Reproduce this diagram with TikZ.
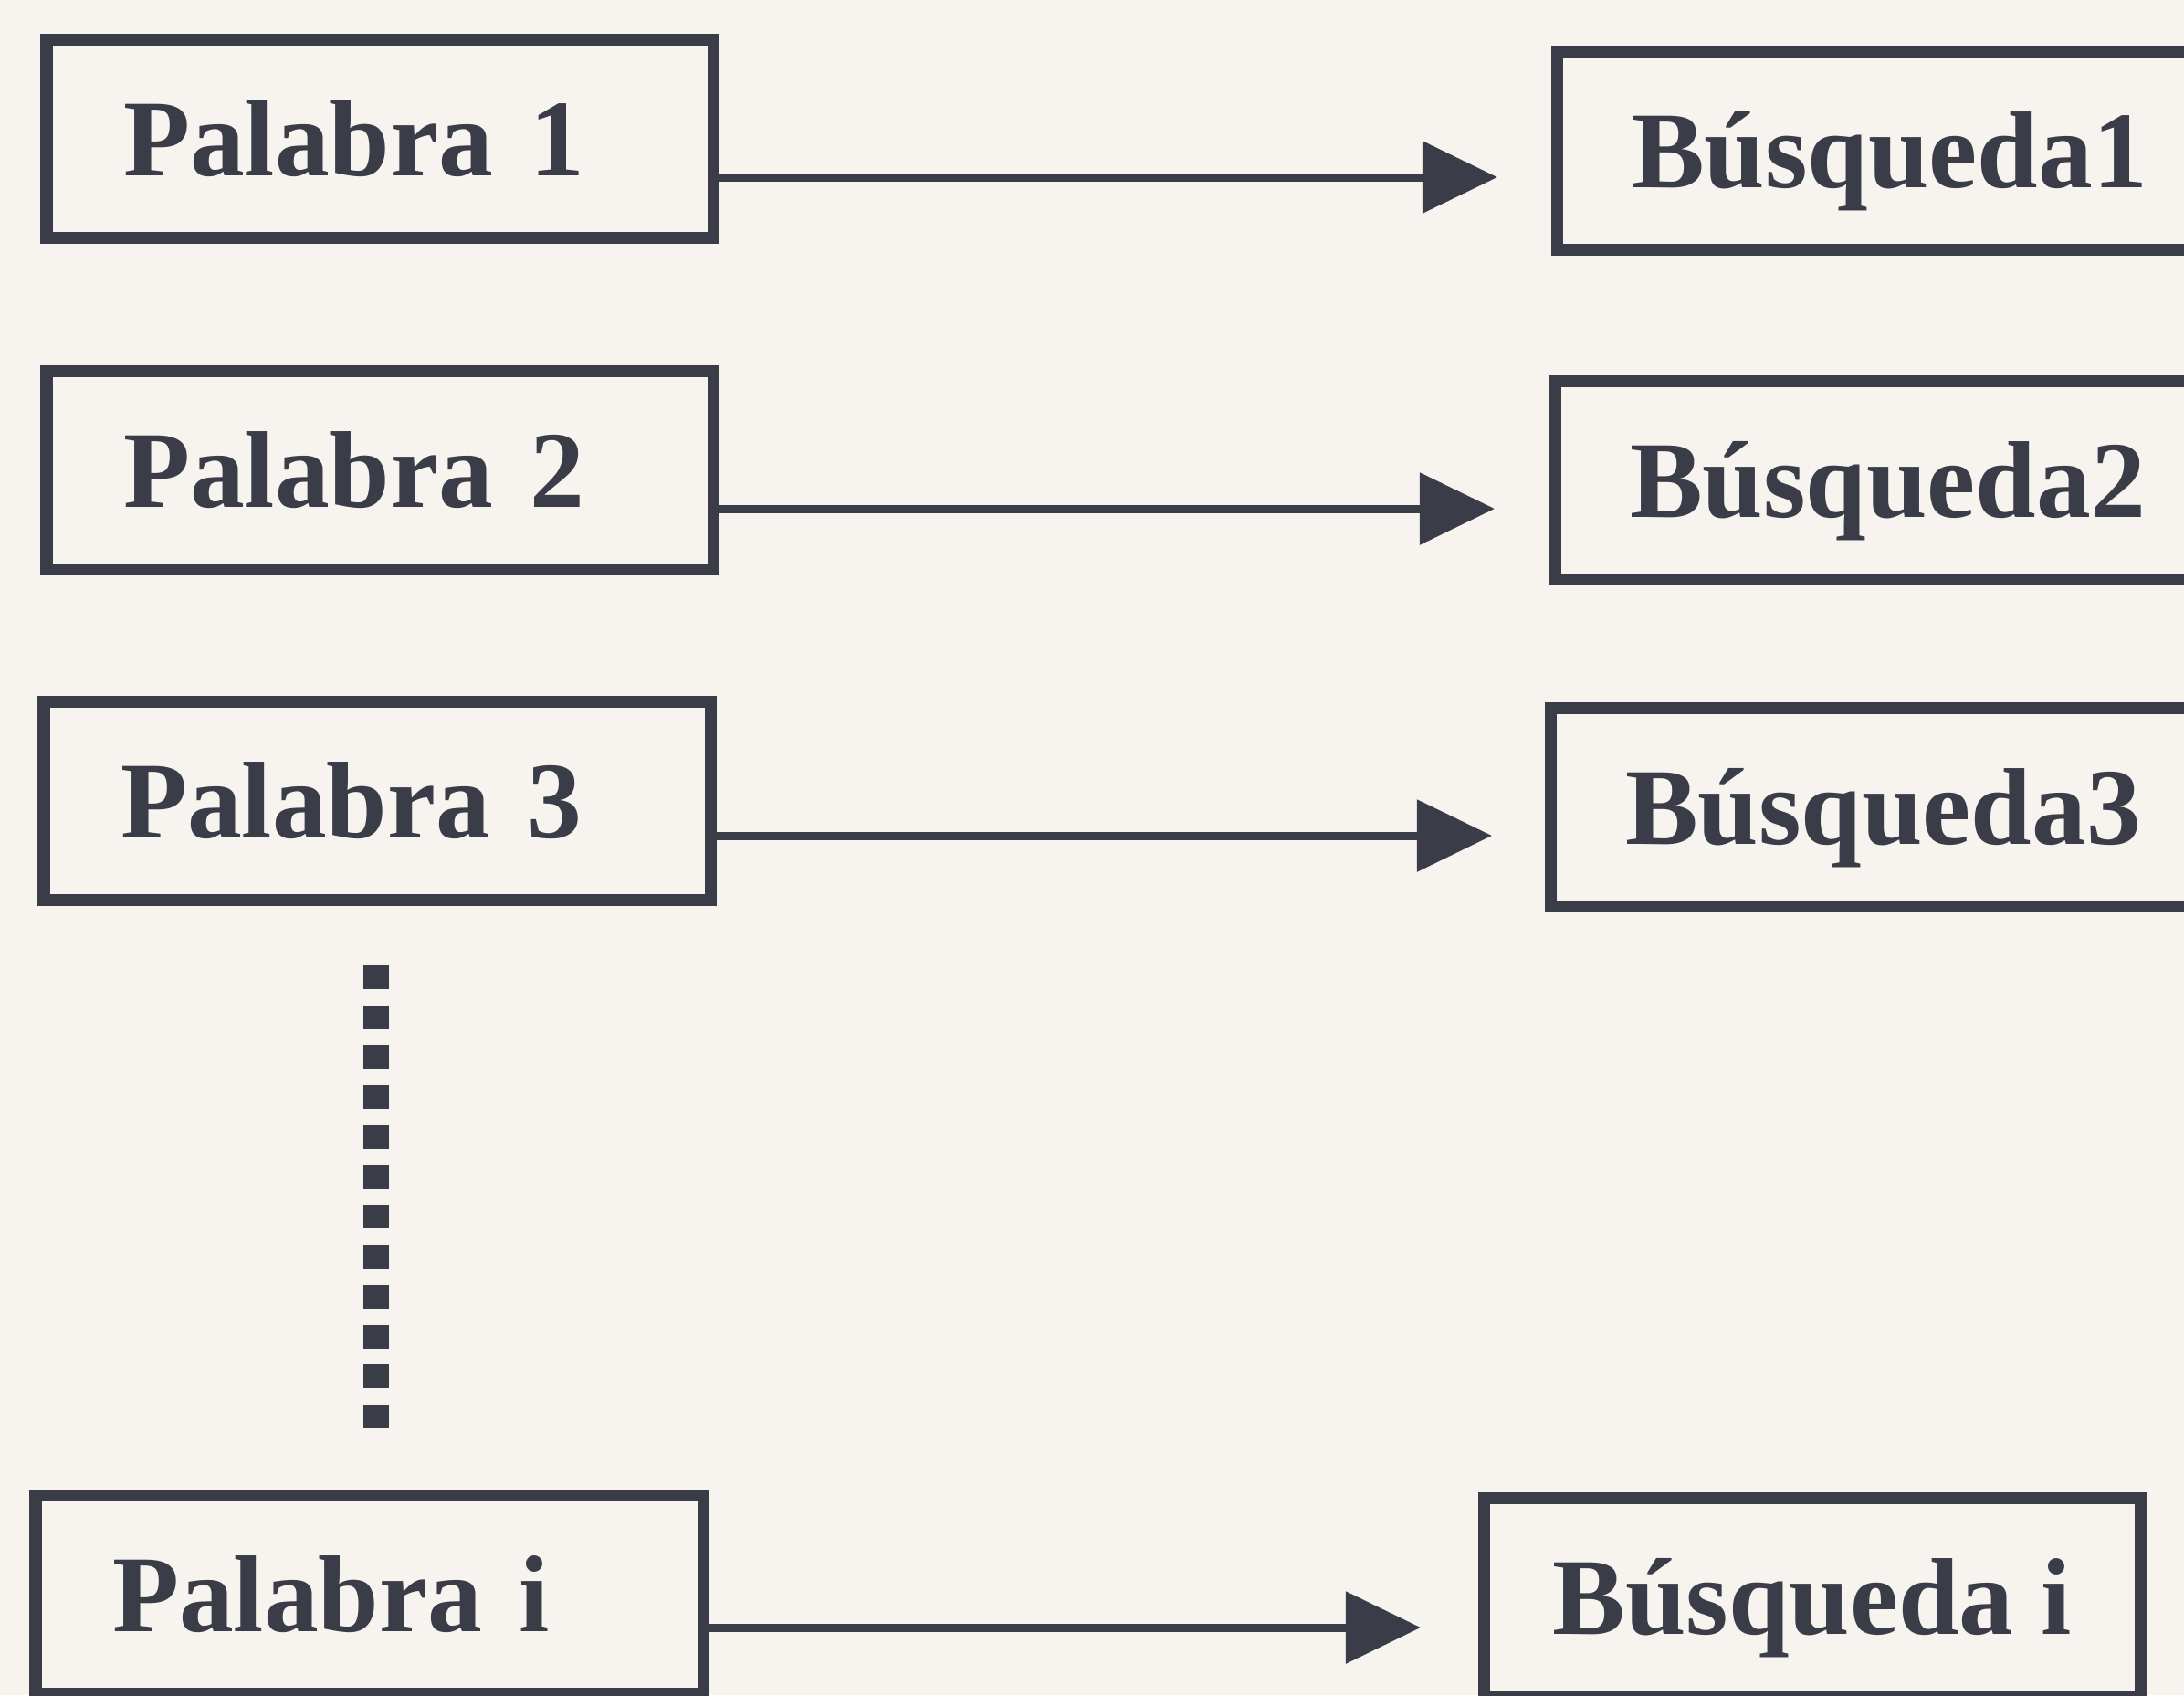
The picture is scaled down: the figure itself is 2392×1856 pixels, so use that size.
\documentclass[tikz,border=0pt]{standalone}
\usepackage{fontspec}
\setmainfont{Liberation Serif}
\usetikzlibrary{arrows.meta}
\definecolor{ink}{HTML}{3A3C47}
\definecolor{paper}{HTML}{F7F4F0}
\begin{document}
\begin{tikzpicture}[x=0.01cm,y=-0.01cm,
  wbox/.style={draw=ink, line width=0.13cm, outer sep=0pt, anchor=north west,
    minimum height=2.17cm, text height=23pt, text depth=0pt,
    font=\fontsize{34}{40}\selectfont\bfseries, text=ink, align=left,
    inner xsep=0.84cm, inner ysep=0pt},
  arr/.style={draw=ink, line width=0.09cm, -{Triangle[length=0.82cm,width=0.77cm]}},
  dots/.style={draw=ink, line width=0.27cm, dash pattern=on 0.26cm off 0.177cm}
]
\fill[paper] (0,0) rectangle (2392,1856);
\useasboundingbox (0,0) rectangle (2392,1856);

\node[wbox, text width=5.62cm] (p1) at (51,43) {Palabra 1};
\node[wbox, text width=5.62cm] (p2) at (51,406) {Palabra 2};
\node[wbox, text width=5.62cm] (p3) at (48,768) {Palabra 3};
\node[wbox, text width=5.63cm] (pi) at (39,1637) {Palabra i};

\node[wbox, text width=7.36cm, inner xsep=0.82cm] (b1) at (1705,56) {Búsqueda1};
\node[wbox, text width=7.36cm, inner xsep=0.82cm] (b2) at (1703,417) {Búsqueda2};
\node[wbox, text width=7.36cm, inner xsep=0.82cm] (b3) at (1698,775) {Búsqueda3};
\node[wbox, inner xsep=0.3cm, minimum width=7.19cm, align=center] (bi) at (1625,1640) {Búsqueda i};

\coordinate (t1) at (1640,194);
\coordinate (t2) at (1637,557);
\coordinate (t3) at (1634,915);
\coordinate (ti) at (1556,1782);
\draw[arr] (p1.east |- t1) -- (t1);
\draw[arr] (p2.east |- t2) -- (t2);
\draw[arr] (p3.east |- t3) -- (t3);
\draw[arr] (pi.east |- ti) -- (ti);

\coordinate (dtop) at (412,1057);
\coordinate (dbot) at (412,1566);
\draw[dots] (dtop) -- (dbot);
\end{tikzpicture}
\end{document}
